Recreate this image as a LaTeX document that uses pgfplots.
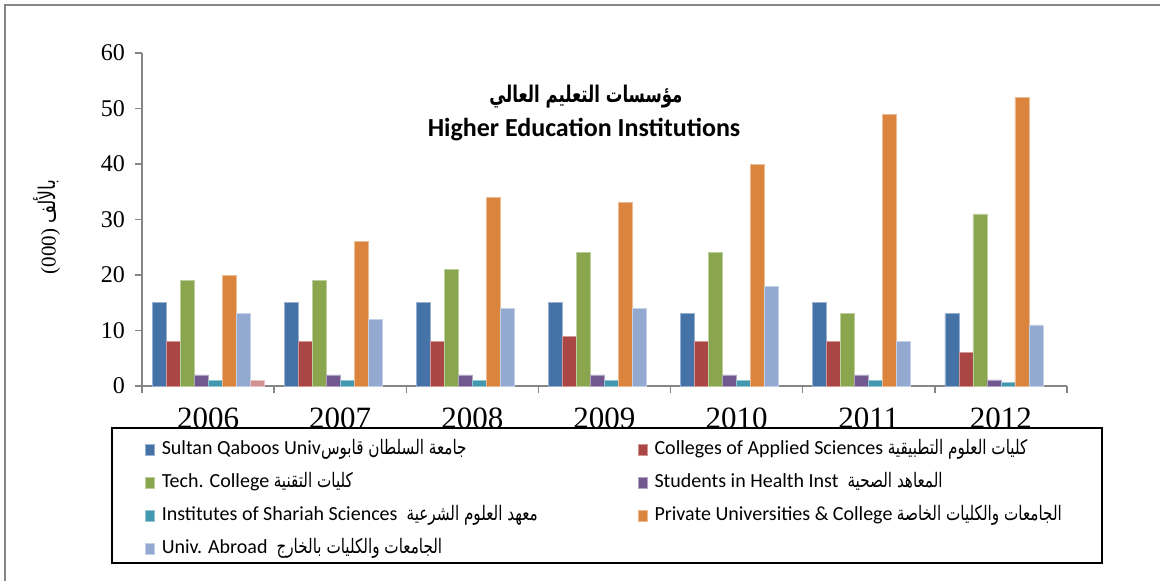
\documentclass[border=0pt]{standalone}
\usepackage{fontspec}
\setmainfont{Carlito}
\newfontfamily\tnr{Liberation Serif}
\newfontfamily\arabicfont[Script=Arabic, FakeStretch=0.76]{DejaVu Sans}
\newfontfamily\arabictitle[Script=Arabic, FakeStretch=0.72]{DejaVu Sans}
\TeXXeTstate=1
\usepackage{pgfplots}
\pgfplotsset{compat=1.18}
\definecolor{cA}{HTML}{4572A7}
\definecolor{cB}{HTML}{AA4643}
\definecolor{cC}{HTML}{89A54E}
\definecolor{cD}{HTML}{71588F}
\definecolor{cE}{HTML}{4198AF}
\definecolor{cF}{HTML}{DB843D}
\definecolor{cG}{HTML}{93A9CF}
\definecolor{cH}{HTML}{D19392}
\definecolor{axisgray}{HTML}{868686}
\newcommand{\ar}[1]{{\arabicfont\beginR #1\endR}}
\newcommand{\colone}[1]{\makebox[236.5bp][l]{#1}}
\begin{document}
\begin{tikzpicture}
\useasboundingbox (0,0) rectangle (580bp,-290.5bp);
\draw[axisgray, line width=1bp] (2.5bp,-290.5bp) -- (2.5bp,-2.5bp) -- (580bp,-2.5bp);
\draw[black, line width=1bp] (56bp,-214bp) rectangle (551bp,-281.5bp);
\begin{axis}[
  scale only axis, width=462.5bp, height=166.5bp,
  at={(71bp,-193bp)}, anchor=south west,
  xmin=-0.5, xmax=6.5, ymin=0, ymax=60,
  ytick={0,10,...,60},
  xtick={-0.5,0.5,...,6.5}, xticklabels={},
  extra x ticks={0,1,2,3,4,5,6},
  extra x tick labels={2006,2007,2008,2009,2010,2011,2012},
  extra x tick style={major tick length=0pt, grid=none,
    xticklabel style={yshift=-7.5bp, font=\tnr\fontsize{15.5bp}{17bp}\selectfont}},
  axis x line*=bottom, axis y line*=left,
  axis line style={-, draw=axisgray, line width=0.75bp},
  tick style={draw=axisgray, line width=0.75bp},
  tick align=outside,
  major tick length=3.5bp,
  ybar=0pt, bar width=7bp,
  ticklabel style={font=\tnr\fontsize{12bp}{14bp}\selectfont},
  yticklabel style={xshift=-1.5bp},
  /pgf/number format/assume math mode=true,
  legend columns=2,
  legend cell align=left,
  legend style={at={(axis description cs:0.0032,-0.15)}, anchor=north west,
    draw=none, fill=none, inner sep=0pt, outer sep=0pt, row sep=3bp,
    column sep=0pt, font=\fontsize{10bp}{12bp}\selectfont,
    nodes={inner sep=1.5bp, text height=8bp, text depth=2.5bp, anchor=base west}},
  legend image code/.code={\fill[#1] (0bp,0bp) rectangle (4.5bp,5.5bp); \path (6.5bp,0bp);},
]
\addplot[fill=cA, draw=cA!55!white, line width=0.4bp] coordinates {(0,15) (1,15) (2,15) (3,15) (4,13) (5,15) (6,13)};
\addlegendentry{\colone{Sultan Qaboos Univ\ar{جامعة السلطان قابوس}}}
\addplot[fill=cB, draw=cB!55!white, line width=0.4bp] coordinates {(0,8) (1,8) (2,8) (3,9) (4,8) (5,8) (6,6)};
\addlegendentry{Colleges of Applied Sciences \ar{كليات العلوم التطبيقية}}
\addplot[fill=cC, draw=cC!55!white, line width=0.4bp] coordinates {(0,19) (1,19) (2,21) (3,24) (4,24) (5,13) (6,31)};
\addlegendentry{\colone{Tech. College \ar{كليات التقنية}}}
\addplot[fill=cD, draw=cD!55!white, line width=0.4bp] coordinates {(0,2) (1,2) (2,2) (3,2) (4,2) (5,2) (6,1.1)};
\addlegendentry{Students in Health Inst\ \ \ar{المعاهد الصحية}}
\addplot[fill=cE, draw=cE!55!white, line width=0.4bp] coordinates {(0,1) (1,1) (2,1) (3,1) (4,1) (5,1) (6,0.6)};
\addlegendentry{\colone{Institutes of Shariah Sciences\ \ \ar{معهد العلوم الشرعية}}}
\addplot[fill=cF, draw=cF!55!white, line width=0.4bp] coordinates {(0,20) (1,26) (2,34) (3,33) (4,40) (5,49) (6,52)};
\addlegendentry{Private Universities \& College \ar{الجامعات والكليات الخاصة}}
\addplot[fill=cG, draw=cG!55!white, line width=0.4bp] coordinates {(0,13) (1,12) (2,14) (3,14) (4,18) (5,8) (6,11)};
\addlegendentry{\colone{Univ. Abroad\ \ \ar{الجامعات والكليات بالخارج}}}
\addplot[fill=cH, draw=cH!55!white, line width=0.4bp] coordinates {(0,1.1)};
\end{axis}
\node[font=\arabictitle\bfseries\fontsize{11.5bp}{14bp}\selectfont] at (293bp,-48.5bp) {\beginR مؤسسات التعليم العالي\endR};
\node[font=\bfseries\fontsize{13bp}{15bp}\selectfont] at (292bp,-65bp) {Higher Education Institutions};
\node[rotate=90, font=\tnr\fontsize{10.5bp}{12bp}\selectfont] at (23.5bp,-113.5bp) {(000) {\arabicfont\fontsize{11.5bp}{12bp}\selectfont\beginR بالألف\endR}};
\end{tikzpicture}
\end{document}
